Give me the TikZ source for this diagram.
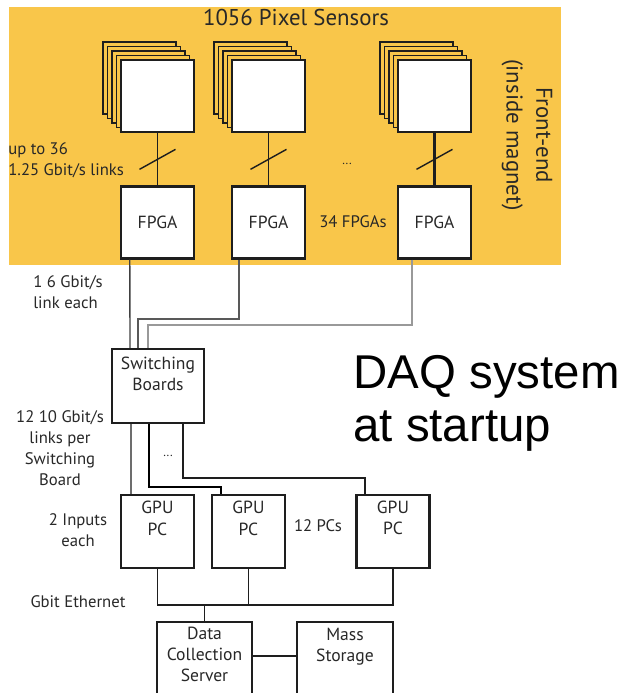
\documentclass[tikz,border=0pt]{standalone}
\usepackage{fontspec}
\setmainfont{PT Sans}
\newfontfamily\slidefont{Liberation Sans}
\usetikzlibrary{positioning,calc}
\definecolor{frontend}{RGB}{249,198,74}
\definecolor{ink}{RGB}{30,30,30}
\definecolor{txtgray}{RGB}{40,40,40}

\begin{document}
\begin{tikzpicture}[x=0.02cm, y=-0.02cm,
  txt/.style={font=\fontsize{9.5}{12}\selectfont, text=txtgray, align=center, inner sep=0pt},
  box/.style={draw=ink, fill=white, line width=1.1pt, minimum width=1.46cm, minimum height=1.44cm,
    inner sep=0pt, font=\fontsize{10}{12}\selectfont, text=txtgray, align=center},
  boxtop/.style={txt, font=\fontsize{10}{12}\selectfont},
  sensor/.style={box, line width=1.6pt},
  sheet/.style={draw=ink, fill=frontend, line width=1.1pt},
  fpgabox/.style={box, line width=1.4pt},
  link/.style={draw=ink, line width=0.8pt}
]
\useasboundingbox (0,0) rectangle (628,693);
\clip (0,0) rectangle (628,693);

% front-end region
\fill[frontend] (9,7) rectangle (561,265);
\node[txt, font=\fontsize{13}{15}\selectfont] (title) at (296,18) {1056 Pixel Sensors};
\node[txt, font=\fontsize{13}{17}\selectfont, rotate=-90] (fe) at (527,135) {Front-end\\(inside magnet)};

% sensor stacks and their FPGAs
\foreach \x/\n in {121/1, 232/2, 398/3} {
  \foreach \i in {4,...,1}
    \draw[sheet] ({\x-4.5*\i},{60-4.5*\i}) rectangle ++(73,72);
  \node[sensor] (sens\n) at ({\x+36.5},96) {};
  \node[fpgabox] (fpga\n) at ({\x+36.5},222.5) {FPGA};
}
\foreach \n/\w in {1/0.8pt, 2/0.8pt, 3/1.4pt} {
  \draw[link, line width=\w] (sens\n) -- (fpga\n) coordinate[pos=.5] (mid\n);
  \draw[link] ($(mid\n)+(-18,10)$) -- ($(mid\n)+(18,-10)$);
}
\node[txt, align=left, anchor=west] (uplinks) at (8,160) {up to 36\\1.25 Gbit/s links};
\node[txt, font=\fontsize{7}{8}\selectfont] (dotsfe) at (347,164) {...};
\node[txt] (nfpga) at (353,222) {34 FPGAs};

% switching boards and readout links
\node[box, minimum width=1.84cm, minimum height=1.48cm] (sw) at (158,386) {};
\node[boxtop, below=5pt of sw.north] (swtxt) {Switching\\Boards};
\draw[link, draw=black!75] ($(fpga1.south west)+(10,0)$) -- ($(sw.north west)+(19,0)$);
\draw[link, line width=1.1pt, draw=black!65] ($(fpga2.south west)+(8,0)$) -- ++(0,59) -| ($(sw.north west)+(27,0)$);
\draw[link, line width=1.1pt, draw=black!40] ($(fpga3.south west)+(15,0)$) -- ++(0,65) -| ($(sw.north west)+(37,0)$);
\node[txt, align=left, anchor=west] (fastlinks) at (33,292) {1 6 Gbit/s\\link each};

% GPU farm
\foreach \n/\x/\w in {1/157.5/1.1pt, 2/248.5/1.1pt, 3/393/1.5pt} {
  \node[box, minimum height=1.46cm, line width=\w] (gpu\n) at (\x,531.5) {};
  \node[boxtop, below=4pt of gpu\n.north] (gputxt\n) {GPU\\PC};
}
\draw[link] ($(sw.south west)+(20,0)$) -- ($(gpu1.north west)+(11,0)$);
\draw[link, line width=1.6pt, draw=black] ($(sw.south west)+(38,0)$) -- ++(0,63) -| ($(gpu2.north west)+(10,0)$);
\draw[link, line width=1.1pt] ($(sw.south west)+(72,0)$) -- ++(0,54) -| ($(gpu3.north west)+(10,0)$);
\node[txt, font=\fontsize{7}{8}\selectfont] (dotssw) at (168,456) {...};
\node[txt] (gbitlinks) at (60,448) {12 10 Gbit/s\\links per\\Switching\\Board};
\node[txt] (inputs) at (78,530) {2 Inputs\\each};
\node[txt] (npc) at (318,526) {12 PCs};

% ethernet, data collection and storage
\node[box, minimum width=1.9cm, minimum height=1.8cm] (dcs) at (204.5,667) {};
\node[boxtop, below=3pt of dcs.north] (dcstxt) {Data\\Collection\\Server};
\node[box, minimum width=1.92cm, minimum height=1.8cm] (ms) at (345,667) {};
\node[boxtop, below=4pt of ms.north] (mstxt) {Mass\\Storage};
\draw[link] (gpu1.south) -- ++(0,36) coordinate (bus) -| (gpu3.south);
\draw[link] (gpu2.south) -- (gpu2.south |- bus);
\draw[link] (dcs.north) -- (dcs.north |- bus);
\draw[link] ($(dcs.north east)+(0,35)$) -- ($(ms.north west)+(0,35)$);
\node[txt] (eth) at (78,601.5) {Gbit Ethernet};

\node[font=\slidefont\fontsize{27}{30}\selectfont, align=left, anchor=north west, inner sep=0pt] (daq) at (353,355) {DAQ system\\at startup};
\end{tikzpicture}
\end{document}
